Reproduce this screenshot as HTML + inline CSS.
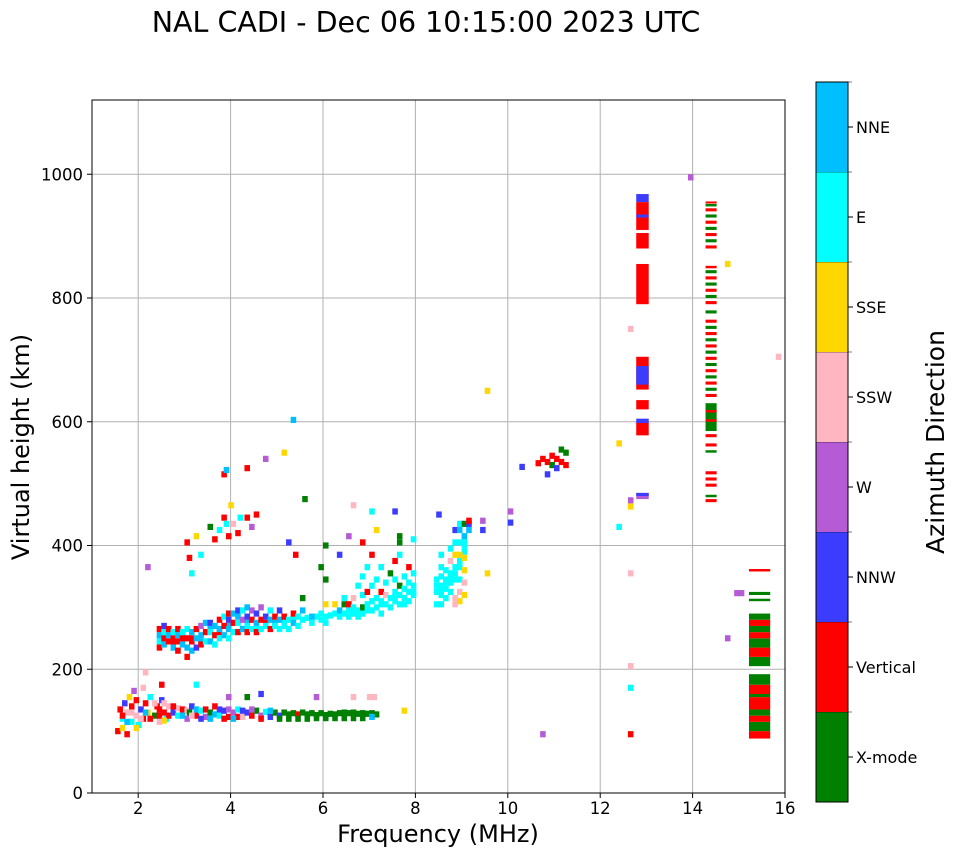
<!DOCTYPE html>
<html><head><meta charset="utf-8"><style>
body{margin:0;background:#fff;font-family:"DejaVu Sans","Liberation Sans",sans-serif}
svg text{font-family:"DejaVu Sans","Liberation Sans",sans-serif;fill:#000}
</style></head><body>
<svg id="fig" width="958" height="857" xmlns="http://www.w3.org/2000/svg">
<text x="426" y="32" font-size="28.5" text-anchor="middle">NAL CADI - Dec 06 10:15:00 2023 UTC</text>
<g id="grid"></g><g id="marks"></g><g id="axes"></g><g id="cbar"></g>
<text x="438" y="842" font-size="24" text-anchor="middle">Frequency (MHz)</text>
<text transform="translate(29,447) rotate(-90)" font-size="24" text-anchor="middle">Virtual height (km)</text>
<text transform="translate(944,442) rotate(-90)" font-size="25" text-anchor="middle">Azimuth Direction</text>
</svg>
<script>
const directions=["X-mode","Vertical","NNW","W","SSW","SSE","E","NNE"];
const dirColors=["#008000","#ff0000","#3c3cff","#b65bd6","#ffb6c1","#ffd700","#00ffff","#00bfff"];
const xTicks=[2,4,6,8,10,12,14,16];
const yTicks=[0,200,400,600,800,1000];
// echoes: [freq MHz, height km, direction index]
const lowEchoes=[[1.5,95,1],[1.55,130,1],[1.6,115,6],[1.6,100,5],[1.65,140,2],[1.7,125,4],[1.7,90,1],[1.75,150,5],[1.8,110,6],[1.8,135,1],[1.85,160,3],[1.9,120,4],[1.9,145,1],[1.95,105,6],[2.0,130,2],[2.05,165,4],[2.05,115,1],[2.1,140,1],[2.1,190,4],[2.15,125,5],[2.2,150,6],[2.3,120,0],[2.35,135,1],[2.4,110,4],[2.45,145,2],[2.45,170,1],[2.5,125,1],[2.55,115,6],[2.6,135,4],[2.4,130,1],[2.5,140,4],[2.6,120,1],[2.7,125,2],[2.8,120,6],[2.8,132,4],[2.9,130,1],[3.0,115,3],[3.0,128,4],[3.05,125,0],[3.1,135,2],[3.2,120,1],[3.2,130,7],[3.3,128,6],[3.4,118,3],[3.4,130,1],[3.5,125,0],[3.6,135,1],[3.6,122,7],[3.7,120,6],[3.8,128,2],[3.9,118,1],[3.9,130,3],[4.0,125,3],[4.1,130,6],[4.1,118,1],[4.2,118,4],[4.3,125,2],[4.4,120,1],[4.5,128,0],[4.6,120,3],[4.7,126,6],[4.8,118,2],[4.9,125,0],[5.0,120,2],[5.1,125,0],[5.2,122,0],[5.3,124,0],[5.4,122,1],[5.5,125,0],[5.6,122,0],[5.7,124,0],[5.8,121,0],[5.9,124,0],[6.0,121,0],[6.1,123,0],[6.2,122,0],[6.3,124,0],[6.4,125,0],[6.5,124,0],[6.6,125,0],[6.7,123,0],[6.8,124,0],[6.9,123,0],[7.0,124,0],[7.1,122,0],[7.7,128,5],[6.6,150,4],[6.95,150,4],[7.05,150,4],[4.3,150,0],[3.9,150,3],[4.6,155,2],[5.8,150,3],[3.2,170,6],[10.7,90,3]];
const extraEchoes=[[1.6,120,1],[1.7,110,7],[1.8,125,4],[1.9,100,5],[2.0,115,4],[2.1,125,7],[2.2,115,1],[2.3,140,4],[2.4,120,1],[2.5,112,5],[2.7,135,1],[2.9,120,7],[3.1,120,4],[3.3,115,2],[3.5,115,7],[3.7,130,2],[3.8,115,1],[4.0,115,7],[4.2,128,2],[4.4,130,3],[4.6,115,1],[4.8,128,7],[5.0,115,0],[5.2,115,0],[5.4,115,0],[5.6,115,0],[5.8,116,0],[6.0,116,0],[6.2,116,0],[6.4,116,0],[6.6,116,0],[6.8,116,0],[7.0,118,7],[2.5,250,7],[2.7,240,1],[2.9,250,7],[3.1,245,1],[3.3,240,7],[3.5,260,7],[3.7,255,1],[3.9,265,7],[4.1,280,7],[4.3,270,7],[4.5,265,6],[4.7,270,1],[4.9,270,7],[5.1,272,6],[5.3,278,6],[5.6,278,6],[5.8,280,6],[6.1,282,6],[6.3,285,6],[6.6,290,6],[6.9,295,6],[7.2,305,6],[7.5,312,6],[7.7,300,6],[7.9,320,6],[8.4,330,6],[8.5,322,6],[8.6,335,6],[8.7,345,6],[8.8,350,6],[8.9,370,6],[9.0,385,6],[9.0,400,6]];
const fEchoes=[[2.4,230,1],[2.4,240,6],[2.4,250,7],[2.4,260,1],[2.5,235,7],[2.5,245,1],[2.5,255,6],[2.5,265,2],[2.6,240,1],[2.6,250,7],[2.6,260,1],[2.7,230,7],[2.7,245,1],[2.7,255,6],[2.8,225,1],[2.8,240,1],[2.8,250,7],[2.8,260,1],[2.9,235,7],[2.9,245,1],[2.9,255,6],[3.0,215,1],[3.0,230,7],[3.0,245,1],[3.0,260,6],[3.1,225,7],[3.1,240,1],[3.1,255,7],[3.2,230,2],[3.2,245,7],[3.2,260,1],[3.3,235,1],[3.3,250,7],[3.3,265,3],[3.4,240,6],[3.4,255,1],[3.4,270,7],[3.5,240,7],[3.5,255,6],[3.5,270,2],[3.6,235,6],[3.6,250,1],[3.6,265,7],[3.7,245,6],[3.7,260,7],[3.7,275,1],[3.8,250,7],[3.8,265,1],[3.8,280,6],[3.9,245,6],[3.9,260,7],[3.9,275,2],[3.9,285,1],[4.0,255,6],[4.0,270,1],[4.0,285,7],[4.1,255,1],[4.1,270,6],[4.1,290,2],[4.2,260,7],[4.2,275,3],[4.2,290,6],[4.3,255,1],[4.3,265,6],[4.3,280,2],[4.3,295,7],[4.4,260,6],[4.4,275,1],[4.4,290,3],[4.5,255,1],[4.5,270,7],[4.5,285,2],[4.6,260,6],[4.6,275,1],[4.6,295,3],[4.7,265,6],[4.7,280,2],[4.8,260,1],[4.8,275,7],[4.8,290,6],[4.9,265,6],[4.9,280,1],[5.0,260,6],[5.0,275,7],[5.0,290,2],[5.1,265,6],[5.1,280,1],[5.2,260,6],[5.2,275,6],[5.3,270,7],[5.3,285,1],[5.4,265,6],[5.4,280,6],[5.5,275,6],[5.5,290,7],[5.5,310,0],[5.7,270,6],[5.7,280,7],[5.9,275,6],[5.9,285,6],[6.0,270,6],[6.0,280,6],[6.0,300,5],[6.0,340,0],[6.2,285,6],[6.2,300,5],[6.3,280,6],[6.3,290,7],[6.4,285,6],[6.4,300,0],[6.4,310,6],[6.5,280,6],[6.5,290,6],[6.5,300,1],[6.6,285,6],[6.6,295,6],[6.6,310,4],[6.7,280,6],[6.7,290,6],[6.7,330,6],[6.8,285,6],[6.8,295,0],[6.8,315,6],[6.8,345,6],[6.9,290,6],[6.9,300,6],[6.9,320,1],[6.9,360,6],[7.0,290,6],[7.0,305,6],[7.0,330,6],[7.0,380,1],[7.1,295,6],[7.1,310,6],[7.1,340,6],[7.2,285,6],[7.2,300,6],[7.2,320,1],[7.2,360,6],[7.3,300,6],[7.3,315,4],[7.3,335,6],[7.4,295,6],[7.4,310,6],[7.4,350,0],[7.5,305,6],[7.5,320,6],[7.5,340,6],[7.5,370,1],[7.6,300,6],[7.6,315,6],[7.6,330,0],[7.6,380,6],[7.6,400,0],[7.7,310,6],[7.7,325,6],[7.7,345,6],[7.8,305,6],[7.8,320,6],[7.8,335,6],[7.8,360,1],[7.9,315,6],[7.9,330,6],[7.9,350,6],[8.4,300,6],[8.4,320,6],[8.4,340,6],[8.5,300,6],[8.5,315,6],[8.5,330,6],[8.5,345,6],[8.5,360,6],[8.5,380,6],[8.6,310,6],[8.6,325,6],[8.6,340,6],[8.6,355,6],[8.7,320,6],[8.7,335,6],[8.7,350,6],[8.7,370,4],[8.7,390,6],[8.8,300,4],[8.8,310,4],[8.8,340,6],[8.8,360,6],[8.8,380,5],[8.8,400,6],[8.8,420,2],[8.9,305,5],[8.9,320,4],[8.9,340,6],[8.9,360,6],[8.9,380,5],[8.9,400,6],[8.9,420,7],[8.9,430,6],[9.0,315,5],[9.0,335,4],[9.0,355,5],[9.0,375,5],[9.0,395,6],[9.0,410,7],[9.0,430,0],[9.1,420,7],[9.1,430,2],[9.1,435,1],[9.4,420,2],[9.4,435,3],[9.5,350,5],[9.5,645,5],[8.45,445,2]];
const sparseEchoes=[[2.15,360,3],[3.0,400,1],[3.05,375,1],[3.1,350,6],[3.2,410,5],[3.3,380,6],[3.5,425,0],[3.6,405,1],[3.7,420,6],[3.8,440,1],[3.85,430,6],[3.9,410,1],[3.95,460,5],[4.0,430,4],[4.1,415,1],[4.15,440,6],[4.3,440,1],[4.4,425,3],[4.5,445,1],[4.7,535,3],[4.3,520,1],[3.8,510,1],[3.85,517,7],[5.1,545,5],[5.3,598,7],[5.2,400,2],[5.35,380,1],[5.55,470,0],[5.9,360,0],[6.0,395,0],[6.3,380,2],[6.5,410,3],[6.6,460,4],[6.8,400,1],[7.0,450,6],[7.1,420,5],[7.5,450,2],[7.6,410,0],[7.9,405,6],[10.0,450,3],[10.0,432,2],[10.25,522,2],[10.6,528,1],[10.7,535,1],[10.8,510,2],[10.8,530,1],[10.9,540,1],[10.9,525,0],[11.0,520,2],[11.0,535,1],[11.1,550,0],[11.1,530,1],[11.2,525,1],[11.2,545,0],[12.35,560,5],[12.35,425,6],[12.6,745,4],[12.6,468,3],[12.6,458,5],[12.6,350,4],[12.6,165,6],[12.6,200,4],[12.6,90,1],[13.9,990,3],[14.7,850,5],[14.7,245,3],[14.9,318,3],[15.0,318,3],[15.8,700,4]];
// stripes: [freqStart, freqEnd, hLow, hHigh, direction]
const stripes=[[12.78,13.05,790,855,1],[12.78,13.05,880,905,1],[12.78,13.05,910,955,1],[12.78,13.05,955,968,2],[12.78,13.05,930,935,2],[12.78,13.05,578,600,1],[12.78,13.05,598,605,2],[12.78,13.05,620,635,1],[12.78,13.05,652,705,1],[12.78,13.05,660,690,2],[12.78,13.05,475,485,3],[12.78,13.05,480,485,2],
[14.28,14.52,585,630,0],[14.28,14.52,600,604,1],[14.28,14.52,615,619,1],
[14.28,14.52,470,475,1],[14.28,14.52,478,482,0],[14.28,14.52,495,500,1],[14.28,14.52,505,510,1],[14.28,14.52,515,520,1],[14.28,14.52,550,554,0],[14.28,14.52,560,565,1],[14.28,14.52,575,580,1],[14.28,14.52,640,645,1],[14.28,14.52,650,655,0],[14.28,14.52,660,665,1],[14.28,14.52,670,675,0],[14.28,14.52,680,685,1],[14.28,14.52,690,695,0],[14.28,14.52,700,705,1],[14.28,14.52,710,715,0],[14.28,14.52,720,725,1],[14.28,14.52,730,735,0],[14.28,14.52,740,745,1],[14.28,14.52,750,755,0],[14.28,14.52,760,765,1],[14.28,14.52,775,780,0],[14.28,14.52,790,795,1],[14.28,14.52,800,805,0],[14.28,14.52,810,815,1],[14.28,14.52,820,825,0],[14.28,14.52,830,835,1],[14.28,14.52,840,845,0],[14.28,14.52,848,852,1],[14.28,14.52,880,885,1],[14.28,14.52,890,895,0],[14.28,14.52,900,905,1],[14.28,14.52,910,915,0],[14.28,14.52,920,925,1],[14.28,14.52,930,935,0],[14.28,14.52,940,945,1],[14.28,14.52,948,952,0],[14.28,14.52,953,956,1],
[15.22,15.68,88,100,1],[15.22,15.68,100,115,0],[15.22,15.68,115,125,1],[15.22,15.68,125,135,0],[15.22,15.68,135,155,1],[15.22,15.68,155,160,0],[15.22,15.68,160,175,1],[15.22,15.68,175,192,0],[15.22,15.68,205,220,0],[15.22,15.68,220,235,1],[15.22,15.68,235,250,0],[15.22,15.68,250,260,1],[15.22,15.68,260,270,0],[15.22,15.68,270,280,1],[15.22,15.68,280,290,0],[15.22,15.68,310,314,0],[15.22,15.68,320,325,0],[15.22,15.68,358,362,1]];

const L=92,R=785,T=100,B=793,XMIN=1,XMAX=16,YMAX=1120;
const X=f=>L+(f-XMIN)/(XMAX-XMIN)*(R-L);
const Y=h=>B-h/YMAX*(B-T);
const NS="http://www.w3.org/2000/svg";
function mk(tag,attrs,parent){const e=document.createElementNS(NS,tag);for(const k in attrs)e.setAttribute(k,attrs[k]);parent.appendChild(e);return e;}
const grid=document.getElementById('grid'),marks=document.getElementById('marks'),axes=document.getElementById('axes'),cbar=document.getElementById('cbar');
xTicks.forEach(t=>{
  if(t<XMAX){const g=mk('line',{x1:X(t),x2:X(t),y1:T,y2:B,stroke:'#b0b0b0','stroke-width':1},grid);
  
  }
  mk('line',{x1:X(t),x2:X(t),y1:B,y2:B+5,stroke:'#000'},axes);
  const tx=mk('text',{x:X(t),y:B+21,'font-size':16.5,'text-anchor':'middle'},axes);tx.textContent=t;
  
  
});
yTicks.forEach(t=>{
  if(t>0){const g=mk('line',{x1:L,x2:R,y1:Y(t),y2:Y(t),stroke:'#b0b0b0','stroke-width':1},grid);
  
  }
  mk('line',{x1:L-5,x2:L,y1:Y(t),y2:Y(t),stroke:'#000'},axes);
  const tx=mk('text',{x:L-9,y:Y(t)+6,'font-size':16.5,'text-anchor':'end'},axes);tx.textContent=t;
  
  
});
function cell(f,h,d){
  const r=mk('rect',{x:X(f),y:Y(h+10),width:X(f+0.12)-X(f),height:Y(h)-Y(h+10),fill:dirColors[d]},marks);
  
  
}
lowEchoes.forEach(e=>cell(e[0],e[1],e[2]));
extraEchoes.forEach(e=>cell(e[0],e[1],e[2]));
fEchoes.forEach(e=>cell(e[0],e[1],e[2]));
sparseEchoes.forEach(e=>cell(e[0],e[1],e[2]));
stripes.forEach(s=>{
  const r=mk('rect',{x:X(s[0]),y:Y(s[3]),width:X(s[1])-X(s[0]),height:Math.max(2,Y(s[2])-Y(s[3])),fill:dirColors[s[4]]},marks);
  
  
});
const frame=mk('rect',{x:L,y:T,width:R-L,height:B-T,fill:'none',stroke:'#000','stroke-width':1},axes);


// colorbar
const CX=816,CW=32,CT=82,CB=802,ch=(CB-CT)/directions.length;
directions.forEach((d,i)=>{
  const y0=CB-(i+1)*ch;
  const r=mk('rect',{x:CX,y:y0,width:CW,height:ch,fill:dirColors[i]},cbar);
  
  
  mk('line',{x1:CX+CW,x2:CX+CW+5,y1:y0+ch/2,y2:y0+ch/2,stroke:'#000'},cbar);
  mk('line',{x1:CX,x2:CX+CW+4,y1:y0,y2:y0,stroke:'#000','stroke-width':0.6},cbar);
  const tx=mk('text',{x:CX+CW+8,y:y0+ch/2+6,'font-size':16,'text-anchor':'start'},cbar);tx.textContent=d;
  
  
});
mk('rect',{x:CX,y:CT,width:CW,height:CB-CT,fill:'none',stroke:'#000'},cbar);
</script>
</body></html>
